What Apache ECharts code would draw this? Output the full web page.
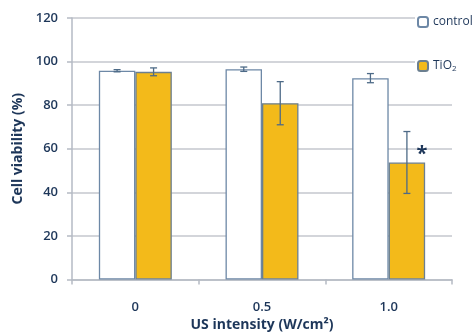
<!DOCTYPE html>
<html><head><meta charset="utf-8">
<script src="https://cdn.jsdelivr.net/npm/echarts@6/dist/echarts.min.js"></script>
<style>html,body{margin:0;padding:0;background:#fff}#c{width:472px;height:332px}</style>
</head><body><div id="c"></div>
<script>
const categories = ['0', '0.5', '1.0'];
const controlValues = [95.8, 96.5, 92.4];
const controlErrors = [0.5, 1.0, 2.1];
const tio2Values = [95.3, 80.9, 53.7];
const tio2Errors = [1.8, 9.9, 14.2];
const tio2Marks = ['', '', '*'];
const yTicks = [0, 20, 40, 60, 80, 100, 120];

const navy = '#1d3659';
const font = 'Open Sans';
const BAR_FRAC = 0.288;

function errSeries(name, values, errors, side, marks) {
  return {
    type: 'custom', name: name + '_err', z: 5, silent: true,
    data: values.map((v, i) => [i, v, errors[i], marks ? marks[i] : '']),
    renderItem: function (params, api) {
      const i = api.value(0), v = api.value(1), e = api.value(2);
      const band = api.size([1, 0])[0];
      const c = api.coord([i, v]);
      const x = c[0] + side * band * BAR_FRAC / 2;
      const top = api.coord([i, v + e])[1];
      const bot = api.coord([i, v - e])[1];
      const cap = 3.5;
      const st = { stroke: '#4d6a87', lineWidth: 1.3 };
      const children = [
        { type: 'line', shape: { x1: x, y1: top, x2: x, y2: bot }, style: st },
        { type: 'line', shape: { x1: x - cap, y1: top, x2: x + cap, y2: top }, style: st },
        { type: 'line', shape: { x1: x - cap, y1: bot, x2: x + cap, y2: bot }, style: st }
      ];
      const m = api.value(3);
      if (m) {
        children.push({ type: 'text', style: { text: m, x: x + 15, y: c[1] - 8, fill: navy,
          font: 'bold 20px "' + font + '"', align: 'center', verticalAlign: 'middle' } });
      }
      return { type: 'group', children: children };
    }
  };
}

const chart = echarts.init(document.getElementById('c'), null, { renderer: 'canvas' });
chart.setOption({
  animation: false,
  backgroundColor: '#fff',
  textStyle: { fontFamily: font },
  grid: { left: 72, right: 20, top: 18, bottom: 52.5, containLabel: false, outerBoundsMode: 'none' },
  legend: {
    orient: 'vertical', left: 415, top: 14, itemGap: 32,
    itemWidth: 10, itemHeight: 10, padding: [2, 6, 2, 2],
    backgroundColor: '#fff',
    data: ['control', 'TiO2'],
    textStyle: { color: navy, fontSize: 12, fontFamily: font,
      rich: { sub: { fontSize: 8, verticalAlign: 'bottom', padding: [6, 0, 0, 0], color: navy } } },
    formatter: n => n === 'TiO2' ? 'TiO{sub|2}' : n
  },
  xAxis: {
    type: 'category', data: categories,
    name: 'US intensity (W/cm²)', nameLocation: 'middle', nameGap: 38,
    nameTextStyle: { color: navy, fontSize: 14, fontWeight: 'bold', fontFamily: font },
    axisLine: { lineStyle: { color: '#b5bac4', width: 1.5 } },
    axisTick: { show: true, length: 5, lineStyle: { color: '#b5bac4', width: 1.5 } },
    axisLabel: { color: navy, fontSize: 13, fontWeight: 600, margin: 21, fontFamily: font }
  },
  yAxis: {
    type: 'value', min: yTicks[0], max: yTicks[yTicks.length - 1], interval: 20,
    name: 'Cell viability (%)', nameLocation: 'middle', nameGap: 46, nameRotate: 90,
    nameTextStyle: { color: navy, fontSize: 14, fontWeight: 'bold', fontFamily: font },
    axisLine: { show: true, lineStyle: { color: '#b5bac4', width: 1.5 } },
    axisTick: { show: true, length: 5, lineStyle: { color: '#b5bac4', width: 1.5 } },
    axisLabel: { color: navy, fontSize: 13, fontWeight: 600, margin: 14, fontFamily: font, padding: [4, 0, 0, 0] },
    splitLine: { lineStyle: { color: '#c4c7ce', width: 1.5 } }
  },
  series: [
    { type: 'bar', name: 'control', data: controlValues, barWidth: (BAR_FRAC * 100) + '%', barGap: '0%',
      itemStyle: { color: '#ffffff', borderColor: '#6d88a6', borderWidth: 1.3 } },
    { type: 'bar', name: 'TiO2', data: tio2Values, barWidth: (BAR_FRAC * 100) + '%', barGap: '0%',
      itemStyle: { color: '#f3ba1a', borderColor: '#6b7f90', borderWidth: 1.3 } },
    errSeries('control', controlValues, controlErrors, -1, null),
    errSeries('TiO2', tio2Values, tio2Errors, 1, tio2Marks)
  ]
});
</script></body></html>
